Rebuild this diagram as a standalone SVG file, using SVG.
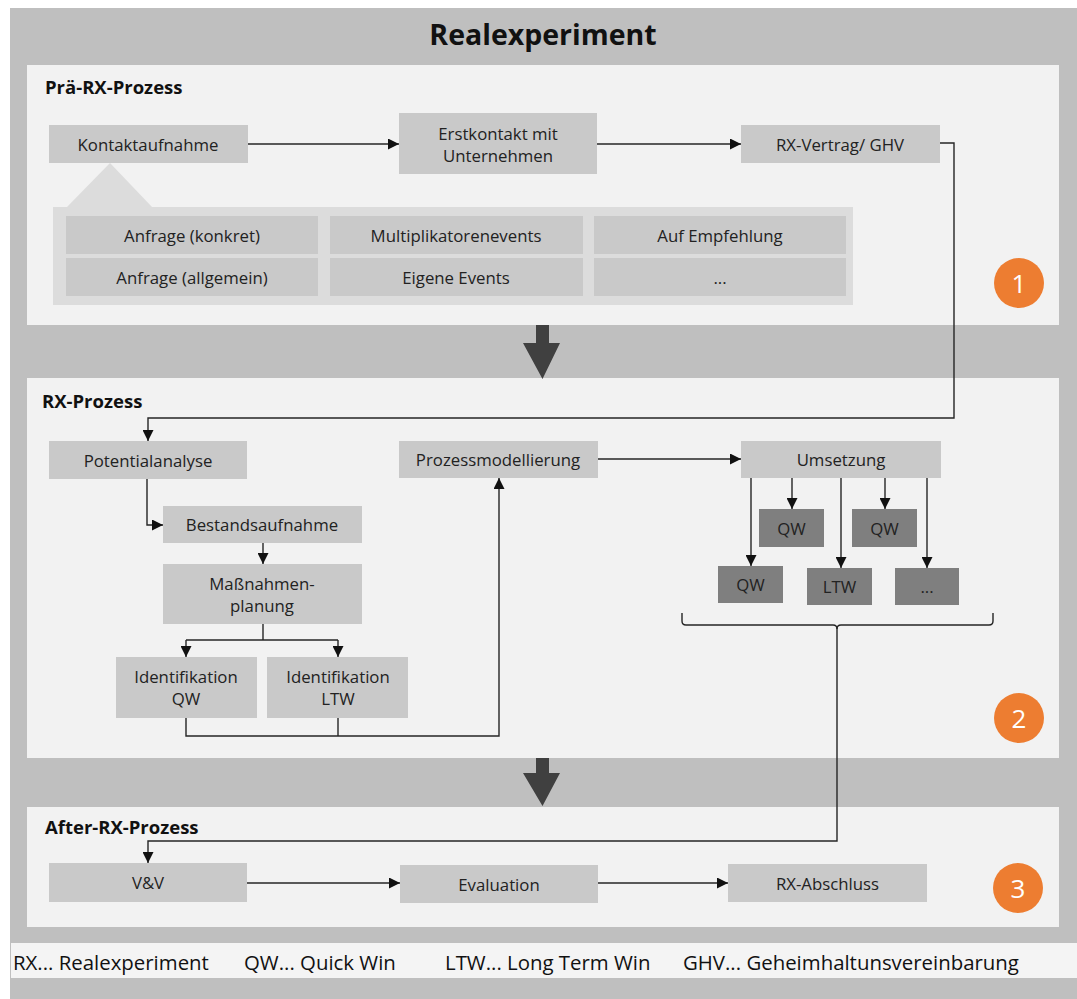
<svg xmlns="http://www.w3.org/2000/svg" width="1077" height="999" viewBox="0 0 1077 999">
<defs>
<style>
.bg{fill:#bfbfbf}
.panel{fill:#f2f2f2}
.box{fill:#c9c9c9}
.dbox{fill:#7f7f7f}
.sub{fill:#dcdcdc}
.t{font-family:"Open Sans","Liberation Sans",sans-serif;font-size:16.8px;fill:#222222;text-anchor:middle;dominant-baseline:central}
.h{font-family:"Open Sans","Liberation Sans",sans-serif;font-size:18.5px;font-weight:bold;fill:#111111}
.title{font-family:"Open Sans","Liberation Sans",sans-serif;font-size:28.5px;font-weight:bold;fill:#111111;text-anchor:middle;dominant-baseline:central}
.leg{font-family:"Open Sans","Liberation Sans",sans-serif;font-size:20.4px;fill:#111111;dominant-baseline:central}
.num{font-family:"Open Sans","Liberation Sans",sans-serif;font-size:26px;fill:#ffffff;text-anchor:middle;dominant-baseline:central}
.circ{fill:#ed7d31}
.c{fill:none;stroke:#262626;stroke-width:1.4}
.big{fill:#404040}
</style>
<marker id="ah" markerUnits="userSpaceOnUse" markerWidth="11" markerHeight="11" refX="11" refY="5.5" orient="auto">
<path d="M0,0 L11,5.5 L0,11 z" fill="#111"/>
</marker>
</defs>

<rect class="bg" x="10" y="8" width="1067" height="991"/>
<text class="title" x="543" y="34">Realexperiment</text>

<!-- panels -->
<rect class="panel" x="27" y="65" width="1032" height="260"/>
<rect class="panel" x="27" y="378" width="1032" height="380"/>
<rect class="panel" x="27" y="807" width="1032" height="120"/>
<rect fill="#f4f4f4" x="11" y="943" width="1066" height="35"/>

<text class="h" x="45" y="94">Prä-RX-Prozess</text>
<text class="h" x="42" y="408">RX-Prozess</text>
<text class="h" x="45" y="834">After-RX-Prozess</text>

<!-- big arrows -->
<path class="big" d="M536,325 H549 V343 H560 L542.5,379 L523,343 H536 Z"/>
<path class="big" d="M536,758 H549 V773 H560 L542.5,806 L523,773 H536 Z"/>

<!-- panel 1 nodes -->
<g id="kontaktaufnahme"><rect class="box" x="49" y="125" width="199" height="38"/><text class="t" x="148" y="144">Kontaktaufnahme</text></g>
<g id="erstkontakt"><rect class="box" x="399" y="113" width="198" height="61"/><text class="t" x="498" y="133">Erstkontakt mit</text><text class="t" x="498" y="155">Unternehmen</text></g>
<g id="rxvertrag"><rect class="box" x="741" y="125" width="199" height="38"/><text class="t" x="840" y="144">RX-Vertrag/ GHV</text></g>

<g id="kontaktarten">
<polygon class="sub" points="110,163 67,207 152,207"/>
<rect class="sub" x="53" y="207" width="800" height="98"/>
<rect class="box" x="66" y="216" width="252" height="38"/><text class="t" x="192" y="235">Anfrage (konkret)</text>
<rect class="box" x="330" y="216" width="253" height="38"/><text class="t" x="456" y="235">Multiplikatorenevents</text>
<rect class="box" x="594" y="216" width="252" height="38"/><text class="t" x="720" y="235">Auf Empfehlung</text>
<rect class="box" x="66" y="258" width="252" height="38"/><text class="t" x="192" y="277">Anfrage (allgemein)</text>
<rect class="box" x="330" y="258" width="253" height="38"/><text class="t" x="456" y="277">Eigene Events</text>
<rect class="box" x="594" y="258" width="252" height="38"/><text class="t" x="720" y="277">...</text>
</g>

<g id="step1"><circle class="circ" cx="1019" cy="283" r="25"/><text class="num" x="1019" y="283">1</text></g>

<!-- panel 2 nodes -->
<g id="potentialanalyse"><rect class="box" x="49" y="441" width="198" height="38"/><text class="t" x="148" y="460">Potentialanalyse</text></g>
<g id="bestandsaufnahme"><rect class="box" x="163" y="506" width="199" height="37"/><text class="t" x="262" y="524.5">Bestandsaufnahme</text></g>
<g id="massnahmenplanung"><rect class="box" x="163" y="564" width="199" height="60"/><text class="t" x="262" y="583">Maßnahmen-</text><text class="t" x="262" y="605">planung</text></g>
<g id="identqw"><rect class="box" x="116" y="657" width="141" height="61"/><text class="t" x="186" y="676">Identifikation</text><text class="t" x="186" y="698">QW</text></g>
<g id="identltw"><rect class="box" x="267" y="657" width="141" height="61"/><text class="t" x="338" y="676">Identifikation</text><text class="t" x="338" y="698">LTW</text></g>
<g id="prozessmodellierung"><rect class="box" x="399" y="441" width="199" height="37"/><text class="t" x="498" y="459.5">Prozessmodellierung</text></g>
<g id="umsetzung"><rect class="box" x="741" y="441" width="200" height="37"/><text class="t" x="841" y="459.5">Umsetzung</text></g>
<g id="qw1"><rect class="dbox" x="759" y="509" width="65" height="38"/><text class="t" x="791.5" y="528">QW</text></g>
<g id="qw2"><rect class="dbox" x="852" y="509" width="65" height="38"/><text class="t" x="884.5" y="528">QW</text></g>
<g id="qw3"><rect class="dbox" x="718" y="566" width="65" height="37"/><text class="t" x="750.5" y="584.5">QW</text></g>
<g id="ltw"><rect class="dbox" x="807" y="568" width="65" height="37"/><text class="t" x="839.5" y="586.5">LTW</text></g>
<g id="more"><rect class="dbox" x="895" y="568" width="64" height="37"/><text class="t" x="927" y="586.5">...</text></g>

<g id="step2"><circle class="circ" cx="1019" cy="718" r="25"/><text class="num" x="1019" y="718">2</text></g>

<!-- panel 3 nodes -->
<g id="vv"><rect class="box" x="49" y="863" width="198" height="39"/><text class="t" x="148" y="882.5">V&amp;V</text></g>
<g id="evaluation"><rect class="box" x="400" y="865" width="198" height="38"/><text class="t" x="499" y="884">Evaluation</text></g>
<g id="abschluss"><rect class="box" x="728" y="864" width="199" height="38"/><text class="t" x="827.5" y="883">RX-Abschluss</text></g>

<g id="step3"><circle class="circ" cx="1018" cy="888" r="25"/><text class="num" x="1018" y="888">3</text></g>

<!-- connectors -->
<g id="connectors">
<path class="c" d="M248,144 H399" marker-end="url(#ah)"/>
<path class="c" d="M597,144 H741" marker-end="url(#ah)"/>
<path class="c" d="M940,143 H954 V418 H148 V441" marker-end="url(#ah)"/>
<path class="c" d="M147,479 V525 H163" marker-end="url(#ah)"/>
<path class="c" d="M263,543 V564" marker-end="url(#ah)"/>
<path class="c" d="M263,624 V640"/>
<path class="c" d="M186,640 H338"/>
<path class="c" d="M186,640 V657" marker-end="url(#ah)"/>
<path class="c" d="M338,640 V657" marker-end="url(#ah)"/>
<path class="c" d="M186,718 V736 H499 V478" marker-end="url(#ah)"/>
<path class="c" d="M338,718 V736"/>
<path class="c" d="M598,459 H741" marker-end="url(#ah)"/>
<path class="c" d="M751,478 V566" marker-end="url(#ah)"/>
<path class="c" d="M792,478 V509" marker-end="url(#ah)"/>
<path class="c" d="M841,478 V568" marker-end="url(#ah)"/>
<path class="c" d="M885,478 V509" marker-end="url(#ah)"/>
<path class="c" d="M927,478 V568" marker-end="url(#ah)"/>
<path class="c" d="M682,613 V621 Q682,625 686,625 H833 Q837,625 837,629 Q837,625 841,625 H989 Q993,625 993,621 V613"/>
<path class="c" d="M837,626 V841 H148 V863" marker-end="url(#ah)"/>
<path class="c" d="M247,883 H400" marker-end="url(#ah)"/>
<path class="c" d="M598,883 H728" marker-end="url(#ah)"/>
</g>

<!-- legend -->
<g id="legend">
<text class="leg" x="13" y="962">RX... Realexperiment</text>
<text class="leg" x="244" y="962">QW... Quick Win</text>
<text class="leg" x="445" y="962">LTW... Long Term Win</text>
<text class="leg" x="683" y="962">GHV... Geheimhaltunsvereinbarung</text>
</g>
</svg>
